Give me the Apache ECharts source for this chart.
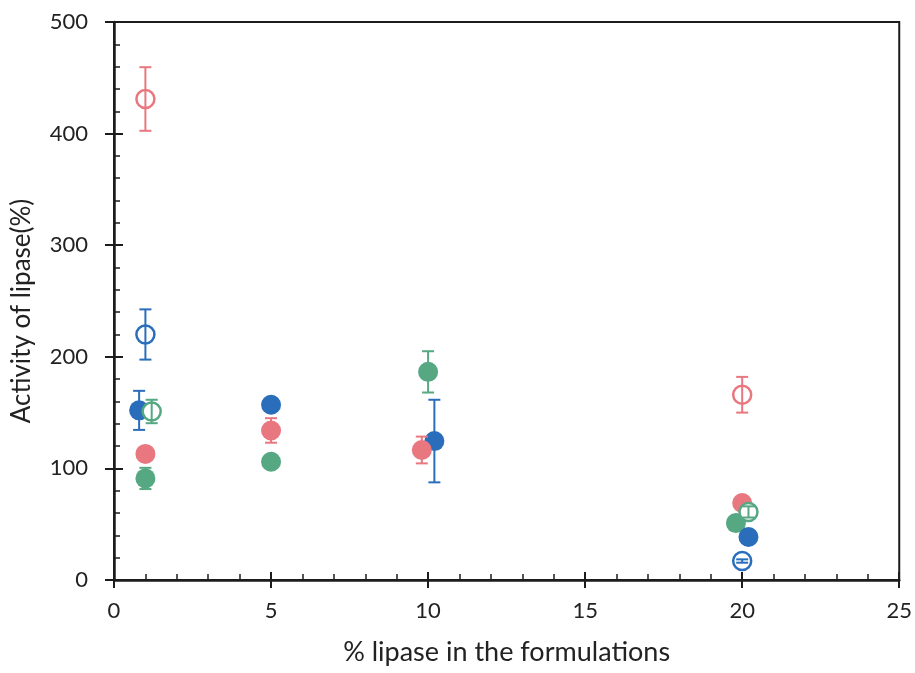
<!DOCTYPE html>
<html>
<head>
<meta charset="utf-8">
<script src="https://cdn.jsdelivr.net/npm/echarts@6/dist/echarts.min.js"></script>
<style>
  html, body { margin: 0; padding: 0; background: #fff; }
  #chart { width: 915px; height: 673px; }
</style>
</head>
<body>
<div id="chart"></div>
<script>
// [x, y, error]
const pinkFilled = [[1, 113, 0], [5, 134, 11], [9.8, 116.5, 12], [20, 69, 0]];
const pinkOpen = [[1, 431, 28.5], [20, 166, 16]];
const blueFilled = [[0.8, 152, 17.5], [5, 157, 0], [10.2, 124.5, 37], [20.2, 38.5, 0]];
const blueOpen = [[1, 220, 22.5], [20, 17, 1.5]];
const greenFilled = [[1, 91, 9.5], [5, 106, 0], [10, 186.5, 18.5], [19.8, 51, 0]];
const greenOpen = [[1.2, 151, 10.5], [20.2, 61, 5]];

const xTicks = [0, 5, 10, 15, 20, 25];
const yTicks = [0, 100, 200, 300, 400, 500];

const PINK = "#e8777f";
const BLUE = "#2a6ebb";
const GREEN = "#55a882";
const AXIS = "#1c1c1c";
const FONT = "Lato";

let mychart = echarts.init(document.getElementById("chart"));

// error bars drawn with the axis scales
function errorBars(data, color, z) {
  return {
    type: "custom",
    data: data.filter((d) => d[2] > 0),
    z: z,
    silent: true,
    renderItem: function (params, api) {
      const x = api.value(0), y = api.value(1), e = api.value(2);
      const top = api.coord([x, y + e]);
      const bot = api.coord([x, y - e]);
      const w = 6;
      const style = { stroke: color, lineWidth: 2 };
      return {
        type: "group",
        children: [
          { type: "line", shape: { x1: top[0], y1: top[1], x2: bot[0], y2: bot[1] }, style: style },
          { type: "line", shape: { x1: top[0] - w, y1: top[1], x2: top[0] + w, y2: top[1] }, style: style },
          { type: "line", shape: { x1: bot[0] - w, y1: bot[1], x2: bot[0] + w, y2: bot[1] }, style: style },
        ],
      };
    },
  };
}

function filled(name, data, color, z) {
  return {
    name: name, type: "scatter", data: data.map((d) => [d[0], d[1]]),
    symbol: "circle", symbolSize: 20, z: z,
    itemStyle: { color: color, opacity: 1 },
  };
}

function open(name, data, color, z) {
  return {
    name: name, type: "scatter", data: data.map((d) => [d[0], d[1]]),
    symbol: "circle", symbolSize: 18, z: z,
    itemStyle: { color: "#fff", borderColor: color, borderWidth: 2.5, opacity: 1 },
  };
}

const xMain = {
  type: "value", position: "bottom", min: xTicks[0], max: xTicks[xTicks.length - 1], interval: 5,
  axisLine: { show: true, onZero: false, lineStyle: { color: AXIS, width: 2.5 } },
  axisTick: { show: true, inside: true, length: 8, lineStyle: { color: AXIS, width: 2 } },
  minorTick: { show: true, splitNumber: 5, length: 6, lineStyle: { color: AXIS, width: 1.5 } },
  splitLine: { show: false },
  axisLabel: { fontSize: 22, color: "#222", fontFamily: FONT, margin: 20 },
  name: "% lipase in the formulations", nameLocation: "middle", nameGap: 59,
  nameTextStyle: { fontSize: 27, color: "#222", fontFamily: FONT },
};
const xOut = {
  type: "value", position: "bottom", min: xTicks[0], max: xTicks[xTicks.length - 1], interval: 5,
  axisLine: { show: false, onZero: false },
  axisTick: { show: true, inside: false, length: 8, lineStyle: { color: AXIS, width: 2 } },
  axisLabel: { show: false }, splitLine: { show: false },
};
const yMain = {
  type: "value", position: "left", min: yTicks[0], max: yTicks[yTicks.length - 1], interval: 100,
  axisLine: { show: true, onZero: false, lineStyle: { color: AXIS, width: 2.5 } },
  axisTick: { show: true, inside: true, length: 9, lineStyle: { color: AXIS, width: 2 } },
  minorTick: { show: true, splitNumber: 5, length: 6, lineStyle: { color: AXIS, width: 1.5 } },
  splitLine: { show: false },
  axisLabel: { fontSize: 22, color: "#222", fontFamily: FONT, margin: 26 },
};
const yOut = {
  type: "value", position: "left", min: yTicks[0], max: yTicks[yTicks.length - 1], interval: 100,
  axisLine: { show: false, onZero: false },
  axisTick: { show: true, inside: false, length: 9, lineStyle: { color: AXIS, width: 2 } },
  axisLabel: { show: false }, splitLine: { show: false },
};

mychart.setOption({
  animation: false,
  backgroundColor: "#fff",
  grid: {
    left: 114, right: 15, top: 22, bottom: 93,
    show: true, borderColor: AXIS, borderWidth: 2,
  },
  xAxis: [xMain, xOut],
  yAxis: [yMain, yOut],
  graphic: [
    {
      type: "text", x: 22, y: 311, rotation: Math.PI / 2,
      style: {
        text: "Activity of lipase(%)", fontSize: 26, fontFamily: FONT, fill: "#222",
        align: "center", verticalAlign: "middle",
      },
    },
  ],
  series: [
    filled("Green filled", greenFilled, GREEN, 2),
    errorBars(greenFilled, GREEN, 3),
    filled("Blue filled", blueFilled, BLUE, 2),
    errorBars(blueFilled, BLUE, 3),
    filled("Pink filled", pinkFilled, PINK, 2),
    errorBars(pinkFilled, PINK, 3),
    open("Blue open", blueOpen, BLUE, 4),
    errorBars(blueOpen, BLUE, 5),
    open("Green open", greenOpen, GREEN, 4),
    errorBars(greenOpen, GREEN, 5),
    open("Pink open", pinkOpen, PINK, 4),
    errorBars(pinkOpen, PINK, 5),
  ],
});
</script>
</body>
</html>
